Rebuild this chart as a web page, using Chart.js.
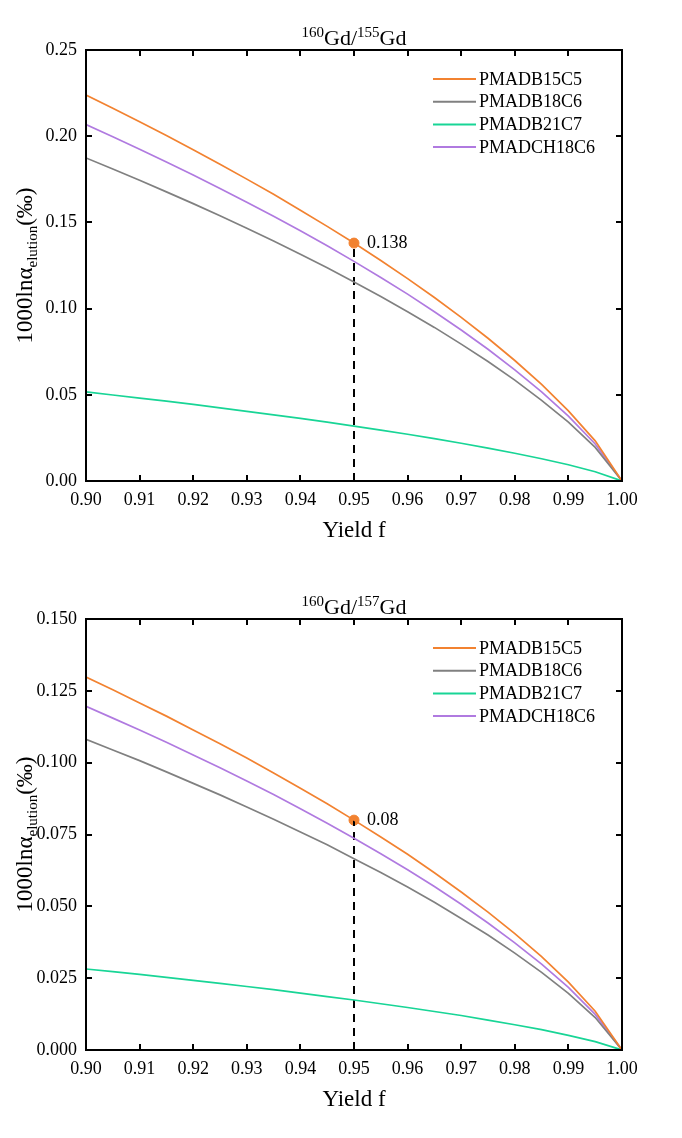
<!DOCTYPE html>
<html>
<head>
<meta charset="utf-8">
<script src="https://cdn.jsdelivr.net/npm/chart.js@4.4.1/dist/chart.umd.min.js"></script>
<style>
  html, body { margin: 0; padding: 0; background: #fff; }
  .box { width: 682px; height: 569px; position: relative; }
</style>
</head>
<body>
<div class="box"><canvas id="chart155"></canvas></div>
<div class="box"><canvas id="chart157"></canvas></div>
<script>
// yield f (x axis)
const yieldF = [0.900, 0.905, 0.910, 0.915, 0.920, 0.925, 0.930, 0.935, 0.940, 0.945, 0.950,
                0.955, 0.960, 0.965, 0.970, 0.975, 0.980, 0.985, 0.990, 0.995, 1.000];
const seriesNames = ['PMADB15C5', 'PMADB18C6', 'PMADB21C7', 'PMADCH18C6'];
const seriesColors = ['#F28230', '#808080', '#18D596', '#B07AE0'];

// 160Gd/155Gd
const gd155_B15C5 = [0.2239, 0.2162, 0.2084, 0.2004, 0.1922, 0.1838, 0.1751, 0.1663, 0.1571, 0.1477, 0.1380,
                     0.1279, 0.1174, 0.1064, 0.0949, 0.0828, 0.0699, 0.0560, 0.0407, 0.0233, 0];
const gd155_B18C6 = [0.1874, 0.1810, 0.1744, 0.1677, 0.1609, 0.1538, 0.1466, 0.1392, 0.1315, 0.1237, 0.1155,
                     0.1070, 0.0982, 0.0891, 0.0794, 0.0693, 0.0585, 0.0468, 0.0341, 0.0195, 0];
const gd155_B21C7 = [0.0517, 0.0499, 0.0481, 0.0463, 0.0444, 0.0424, 0.0404, 0.0384, 0.0363, 0.0341, 0.0318,
                     0.0295, 0.0271, 0.0246, 0.0219, 0.0191, 0.0161, 0.0129, 0.0094, 0.0054, 0];
const gd155_CH18C6 = [0.2067, 0.1997, 0.1924, 0.1850, 0.1775, 0.1697, 0.1617, 0.1535, 0.1451, 0.1364, 0.1274,
                      0.1181, 0.1084, 0.0982, 0.0876, 0.0764, 0.0645, 0.0517, 0.0376, 0.0215, 0];

// 160Gd/157Gd
const gd157_B15C5 = [0.1298, 0.1254, 0.1208, 0.1162, 0.1114, 0.1066, 0.1016, 0.0964, 0.0911, 0.0857, 0.0800,
                     0.0741, 0.0681, 0.0617, 0.0550, 0.0480, 0.0405, 0.0325, 0.0236, 0.0135, 0];
const gd157_B18C6 = [0.1081, 0.1044, 0.1007, 0.0968, 0.0928, 0.0888, 0.0846, 0.0803, 0.0759, 0.0714, 0.0666,
                     0.0618, 0.0567, 0.0514, 0.0458, 0.0400, 0.0337, 0.0270, 0.0197, 0.0113, 0];
const gd157_B21C7 = [0.0282, 0.0273, 0.0263, 0.0253, 0.0242, 0.0232, 0.0221, 0.0210, 0.0198, 0.0186, 0.0174,
                     0.0161, 0.0148, 0.0134, 0.0120, 0.0104, 0.0088, 0.0071, 0.0051, 0.0029, 0];
const gd157_CH18C6 = [0.1196, 0.1155, 0.1114, 0.1071, 0.1027, 0.0982, 0.0936, 0.0889, 0.0840, 0.0789, 0.0737,
                      0.0683, 0.0627, 0.0569, 0.0507, 0.0442, 0.0373, 0.0299, 0.0218, 0.0124, 0];

// marked point at f = 0.95
const markX = 0.95;
const mark155 = 0.138;
const mark157 = 0.08;

const FONT = "'Liberation Serif', 'Times New Roman', serif";

function toPoints(ys) {
    return ys.map((y, i) => ({ x: yieldF[i], y: y }));
}

// draws frame, inward ticks, superscript title, y label and legend
function decorPlugin(cfg) {
    return {
        id: 'decor',
        afterDatasetsDraw(chart) {
            const ctx = chart.ctx;
            const a = chart.chartArea;
            const xs = chart.scales.x, ys = chart.scales.y;
            ctx.save();
            ctx.strokeStyle = '#000';
            ctx.lineWidth = 2;
            ctx.strokeRect(a.left, a.top, a.right - a.left, a.bottom - a.top);
            ctx.beginPath();
            xs.ticks.forEach(t => {
                const px = Math.round(xs.getPixelForValue(t.value));
                ctx.moveTo(px, a.bottom); ctx.lineTo(px, a.bottom - 6);
                ctx.moveTo(px, a.top); ctx.lineTo(px, a.top + 6);
            });
            ys.ticks.forEach(t => {
                const py = Math.round(ys.getPixelForValue(t.value));
                ctx.moveTo(a.left, py); ctx.lineTo(a.left + 6, py);
                ctx.moveTo(a.right, py); ctx.lineTo(a.right - 6, py);
            });
            ctx.stroke();

            // marker label
            ctx.fillStyle = '#000';
            ctx.font = '18px ' + FONT;
            ctx.textBaseline = 'middle';
            ctx.textAlign = 'left';
            ctx.fillText(cfg.markLabel, xs.getPixelForValue(markX) + 13, ys.getPixelForValue(cfg.markValue));

            // title with superscripts
            ctx.textBaseline = 'alphabetic';
            const big = '22px ' + FONT, small = '15px ' + FONT;
            let w = 0;
            cfg.title.forEach(p => { ctx.font = p.sup ? small : big; w += ctx.measureText(p.t).width; });
            let x = (a.left + a.right) / 2 - w / 2;
            cfg.title.forEach(p => {
                ctx.font = p.sup ? small : big;
                ctx.fillText(p.t, x, a.top - 5 - (p.sup ? 8 : 0));
                x += ctx.measureText(p.t).width;
            });

            // y axis label, rotated
            const ybig = '23px ' + FONT, ysmall = '15px ' + FONT;
            const yParts = [{ t: '1000ln\u03B1' }, { t: 'elution', sub: true }, { t: '(\u2030)' }];
            w = 0;
            yParts.forEach(p => { ctx.font = p.sub ? ysmall : ybig; w += ctx.measureText(p.t).width; });
            ctx.translate(32, (a.top + a.bottom) / 2);
            ctx.rotate(-Math.PI / 2);
            x = -w / 2;
            yParts.forEach(p => {
                ctx.font = p.sub ? ysmall : ybig;
                ctx.fillText(p.t, x, p.sub ? 5 : 0);
                x += ctx.measureText(p.t).width;
            });
            ctx.setTransform(1, 0, 0, 1, 0, 0);

            // legend
            ctx.font = '18px ' + FONT;
            ctx.textBaseline = 'middle';
            seriesNames.forEach((name, i) => {
                const yy = a.top + 29 + i * 22.7;
                ctx.strokeStyle = seriesColors[i];
                ctx.lineWidth = 2;
                ctx.beginPath();
                ctx.moveTo(433, yy); ctx.lineTo(476, yy);
                ctx.stroke();
                ctx.fillText(name, 479, yy + 1);
            });
            ctx.restore();
        }
    };
}

function makeChart(id, series, markValue, yMax, yStep, yDecimals, title) {
    const datasets = series.map((ys, i) => ({
        label: seriesNames[i],
        data: toPoints(ys),
        borderColor: seriesColors[i],
        borderWidth: 1.7,
        pointRadius: 0,
        tension: 0,
        fill: false
    }));
    datasets.push({
        label: 'guide',
        data: [{ x: markX, y: 0 }, { x: markX, y: markValue }],
        borderColor: '#000',
        borderWidth: 2,
        borderDash: [8, 6],
        pointRadius: 0
    });
    datasets.push({
        label: 'mark',
        data: [{ x: markX, y: markValue }],
        pointRadius: 5,
        pointBackgroundColor: seriesColors[0],
        pointBorderColor: seriesColors[0],
        showLine: false
    });

    return new Chart(document.getElementById(id), {
        type: 'line',
        data: { datasets: datasets },
        options: {
            responsive: true,
            maintainAspectRatio: false,
            animation: false,
            layout: { padding: { left: 36, right: 60, top: 50, bottom: 0 } },
            plugins: {
                legend: { display: false },
                tooltip: { enabled: false },
                title: { display: false }
            },
            scales: {
                x: {
                    type: 'linear',
                    min: 0.9,
                    max: 1.0,
                    grid: { display: false, drawTicks: false },
                    border: { display: false },
                    ticks: {
                        stepSize: 0.01,
                        padding: 8,
                        color: '#000',
                        font: { family: FONT, size: 18 },
                        maxRotation: 0,
                        callback: v => v.toFixed(2)
                    },
                    title: {
                        display: true,
                        text: 'Yield f',
                        color: '#000',
                        font: { family: FONT, size: 23 },
                        padding: { top: 0, bottom: 24 }
                    },
                    afterFit: s => { s.height = 88; }
                },
                y: {
                    min: 0,
                    max: yMax,
                    grid: { display: false, drawTicks: false },
                    border: { display: false },
                    ticks: {
                        stepSize: yStep,
                        padding: 9,
                        color: '#000',
                        font: { family: FONT, size: 18 },
                        callback: v => v.toFixed(yDecimals)
                    },
                    afterFit: s => { s.width = 50; }
                }
            }
        },
        plugins: [decorPlugin({
            title: title,
            markLabel: String(markValue),
            markValue: markValue
        })]
    });
}

makeChart('chart155', [gd155_B15C5, gd155_B18C6, gd155_B21C7, gd155_CH18C6], mark155, 0.25, 0.05, 2,
    [{ t: '160', sup: true }, { t: 'Gd/' }, { t: '155', sup: true }, { t: 'Gd' }]);
makeChart('chart157', [gd157_B15C5, gd157_B18C6, gd157_B21C7, gd157_CH18C6], mark157, 0.15, 0.025, 3,
    [{ t: '160', sup: true }, { t: 'Gd/' }, { t: '157', sup: true }, { t: 'Gd' }]);
</script>
</body>
</html>
